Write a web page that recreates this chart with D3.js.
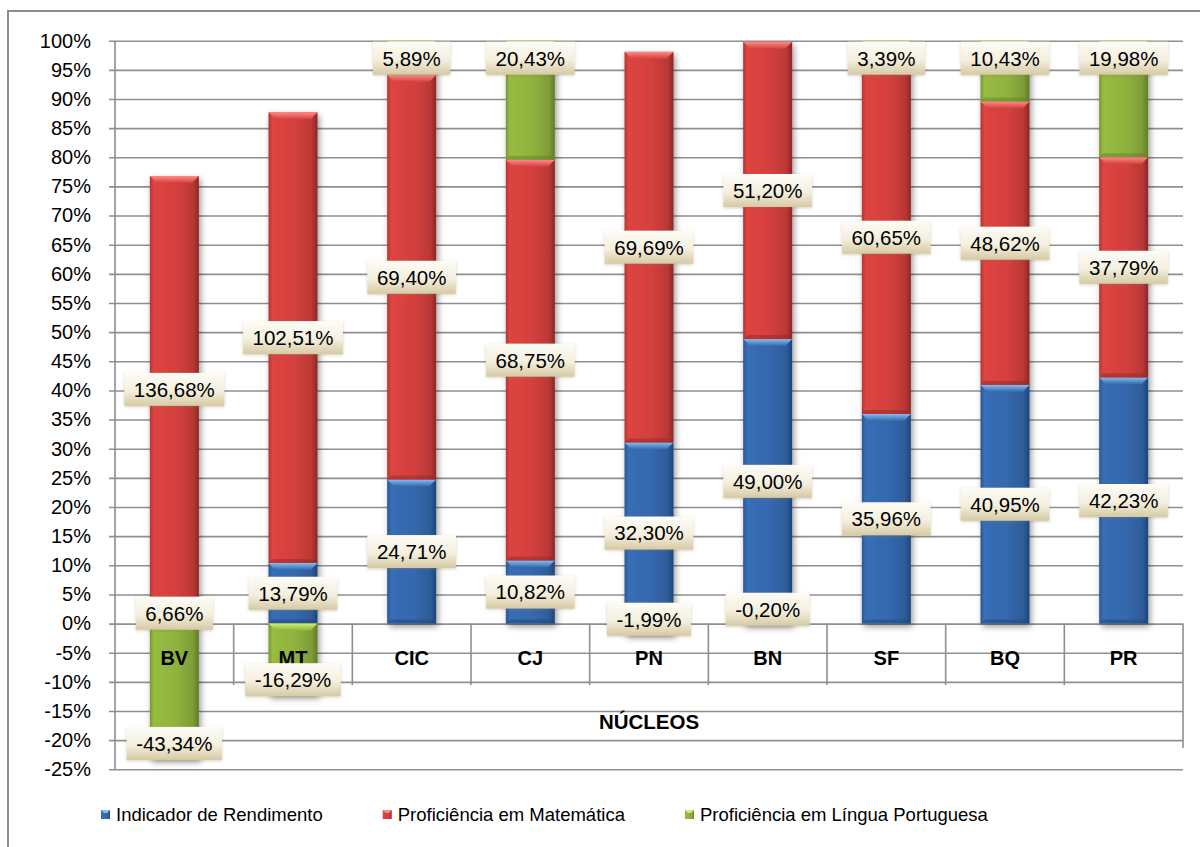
<!DOCTYPE html>
<html>
<head>
<meta charset="utf-8">
<script src="https://cdn.jsdelivr.net/npm/d3@7"></script>
<style>
  body { margin: 0; background: #fff; }
  text { font-family: "Liberation Sans", Arial, sans-serif; }
</style>
</head>
<body>
<svg id="chart" width="1200" height="847"></svg>
<script>
// ---- data ----
var categories = ['BV', 'MT', 'CIC', 'CJ', 'PN', 'BN', 'SF', 'BQ', 'PR'];
var rendimento = [6.66, 13.79, 24.71, 10.82, 32.30, 49.00, 35.96, 40.95, 42.23];
var matematica = [136.68, 102.51, 69.40, 68.75, 69.69, 51.20, 60.65, 48.62, 37.79];
var portugues = [-43.34, -16.29, 5.89, 20.43, -1.99, -0.20, 3.39, 10.43, 19.98];
var seriesNames = ['Indicador de Rendimento', 'Proficiência em Matemática', 'Proficiência em Língua Portuguesa'];
var yTicks = [-25, -20, -15, -10, -5, 0, 5, 10, 15, 20, 25, 30, 35, 40, 45, 50, 55, 60, 65, 70, 75, 80, 85, 90, 95, 100];
var axisTitle = 'NÚCLEOS';

// ---- look ----
var keys = ['r', 'm', 'p'];
var colors = [
    { base: '#3468ad', light: '#86bcf0', dark: '#1c4579' },
    { base: '#d3403d', light: '#ff8a88', dark: '#8e2624' },
    { base: '#8fb23e', light: '#d2ee72', dark: '#5f7c25' }
];
var fontStack = '"Liberation Sans", Arial, sans-serif';
var plot = { left: 115, right: 1183, top: 40.7, bottom: 769.3 };

var locale = d3.formatLocale({ decimal: ',', thousands: '.', grouping: [3], currency: ['', ''], minus: '-' });
var fmtVal = locale.format('.2f');
var fmtTick = locale.format('d');

var svg = d3.select('#chart');
var defs = svg.append('defs');

// chart border (cropped on the right / bottom like the source)
svg.append('rect')
    .attr('x', 8).attr('y', 11).attr('width', 1220).attr('height', 880)
    .attr('fill', '#fff').attr('stroke', '#8c8c8c').attr('stroke-width', 2);

// gradients
colors.forEach(function (c, i) {
    var g = defs.append('linearGradient').attr('id', 'bar-' + i)
        .attr('x1', 0).attr('x2', 1).attr('y1', 0).attr('y2', 0);
    g.append('stop').attr('offset', 0).attr('stop-color', d3.color(c.base).darker(0.5));
    g.append('stop').attr('offset', 0.08).attr('stop-color', d3.color(c.base).brighter(0.15));
    g.append('stop').attr('offset', 0.55).attr('stop-color', c.base);
    g.append('stop').attr('offset', 0.88).attr('stop-color', d3.color(c.base).darker(0.35));
    g.append('stop').attr('offset', 1).attr('stop-color', c.dark);

    var t = defs.append('linearGradient').attr('id', 'top-' + i)
        .attr('x1', 0).attr('x2', 0).attr('y1', 0).attr('y2', 1);
    t.append('stop').attr('offset', 0).attr('stop-color', c.light);
    t.append('stop').attr('offset', 1).attr('stop-color', c.base);
});

var lg = defs.append('linearGradient').attr('id', 'label-bg')
    .attr('x1', 0).attr('x2', 0).attr('y1', 0).attr('y2', 1);
lg.append('stop').attr('offset', 0).attr('stop-color', '#fdfcf6');
lg.append('stop').attr('offset', 0.55).attr('stop-color', '#f4efde');
lg.append('stop').attr('offset', 1).attr('stop-color', '#d6caa4');

var sh = defs.append('filter').attr('id', 'shadow')
    .attr('x', '-30%').attr('y', '-10%').attr('width', '160%').attr('height', '130%');
sh.append('feDropShadow').attr('dx', 2).attr('dy', 3).attr('stdDeviation', 3)
    .attr('flood-color', '#000').attr('flood-opacity', 0.4);

var lsh = defs.append('filter').attr('id', 'label-shadow')
    .attr('x', '-20%').attr('y', '-30%').attr('width', '140%').attr('height', '160%');
lsh.append('feDropShadow').attr('dx', 0).attr('dy', 1).attr('stdDeviation', 1.5)
    .attr('flood-color', '#8a7a50').attr('flood-opacity', 0.35);

defs.append('clipPath').attr('id', 'plot-clip').append('rect')
    .attr('x', plot.left).attr('y', plot.top)
    .attr('width', plot.right - plot.left).attr('height', plot.bottom - plot.top);

// ---- scales ----
var y = d3.scaleLinear().domain([-25, 100]).range([plot.bottom, plot.top]);
var x = d3.scaleBand().domain(categories).range([plot.left, plot.right]);
var barW = x.bandwidth() * 0.413;

// 100% stacked: each value as share of the sum of absolute values
var rows = categories.map(function (c, i) {
    var tot = Math.abs(rendimento[i]) + Math.abs(matematica[i]) + Math.abs(portugues[i]);
    return {
        cat: c,
        r: rendimento[i] / tot * 100,
        m: matematica[i] / tot * 100,
        p: portugues[i] / tot * 100,
        raw: [rendimento[i], matematica[i], portugues[i]]
    };
});
var stacked = d3.stack().keys(keys).offset(d3.stackOffsetDiverging)(rows);

// ---- gridlines + value axis ----
svg.append('g')
    .attr('transform', 'translate(' + (plot.left - 6) + ',0)')
    .attr('font-family', fontStack)
    .call(d3.axisLeft(y).tickValues(yTicks)
        .tickSize(-(plot.right - plot.left + 6)).tickPadding(18)
        .tickFormat(function (d) { return fmtTick(d) + '%'; }))
    .call(function (g) { g.select('.domain').remove(); })
    .call(function (g) { g.selectAll('.tick line').attr('stroke', '#8f8f8f').attr('stroke-width', 1.6); })
    .call(function (g) { g.selectAll('.tick text').attr('font-size', 20).attr('fill', '#000'); });

svg.append('line')
    .attr('x1', plot.left).attr('x2', plot.left)
    .attr('y1', plot.top).attr('y2', plot.bottom)
    .attr('stroke', '#8f8f8f').attr('stroke-width', 1.6);

// category axis separators (two levels)
var y0 = y(0);
categories.slice(1).forEach(function (c) {
    svg.append('line')
        .attr('x1', x(c)).attr('x2', x(c)).attr('y1', y0).attr('y2', y0 + 61.5)
        .attr('stroke', '#8f8f8f').attr('stroke-width', 1.6);
});
svg.append('line')
    .attr('x1', plot.right).attr('x2', plot.right).attr('y1', y0).attr('y2', y0 + 124.5)
    .attr('stroke', '#8f8f8f').attr('stroke-width', 1.6);

// ---- bars ----
var barLayer = svg.append('g').attr('clip-path', 'url(#plot-clip)');

function clampY(v) { return y(Math.max(-25, Math.min(100, v))); }

var cols = barLayer.selectAll('g.col')
    .data(rows)
    .join('g').attr('class', 'col')
    .attr('filter', 'url(#shadow)');

cols.each(function (row, ci) {
    var g = d3.select(this);
    var x0 = x(row.cat) + (x.bandwidth() - barW) / 2;
    var x1 = x0 + barW;
    stacked.forEach(function (s, si) {
        var seg = s[ci];
        var yt = clampY(seg[1]);
        var yb = clampY(seg[0]);
        var h = yb - yt;
        if (h <= 0) return;
        g.append('rect')
            .attr('x', x0).attr('y', yt).attr('width', barW).attr('height', h)
            .attr('fill', 'url(#bar-' + si + ')');
        var b = Math.min(7, h / 2);
        g.append('path')
            .attr('d', 'M' + x0 + ',' + yt + 'L' + x1 + ',' + yt +
                'L' + (x1 - b) + ',' + (yt + b) + 'L' + (x0 + b) + ',' + (yt + b) + 'Z')
            .attr('fill', 'url(#top-' + si + ')');
        var bb = Math.min(4, h / 3);
        g.append('path')
            .attr('d', 'M' + x0 + ',' + yb + 'L' + x1 + ',' + yb +
                'L' + (x1 - bb) + ',' + (yb - bb) + 'L' + (x0 + bb) + ',' + (yb - bb) + 'Z')
            .attr('fill', colors[si].dark).attr('opacity', 0.45);
    });
});

// ---- category labels ----
svg.append('g').selectAll('text')
    .data(categories)
    .join('text')
    .attr('x', function (d) { return x(d) + x.bandwidth() / 2; })
    .attr('y', y0 + 34.5)
    .attr('dy', '0.35em')
    .attr('text-anchor', 'middle')
    .attr('font-size', 20).attr('font-weight', 'bold')
    .text(function (d) { return d; });

svg.append('text')
    .attr('x', (plot.left + plot.right) / 2)
    .attr('y', y0 + 98.5)
    .attr('dy', '0.35em')
    .attr('text-anchor', 'middle')
    .attr('font-size', 20.5).attr('font-weight', 'bold')
    .text(axisTitle);

// ---- data labels ----
var labelLayer = svg.append('g');
var boxH = 33;
rows.forEach(function (row, ci) {
    var cx = x(row.cat) + x.bandwidth() / 2;
    stacked.forEach(function (s, si) {
        var seg = s[ci];
        var v = row.raw[si];
        var cy;
        if (si < 2) {
            cy = (clampY(seg[0]) + clampY(seg[1])) / 2;
        } else if (v >= 0) {
            cy = clampY(seg[1]) + boxH / 2 + 1;   // inside end
        } else {
            cy = clampY(seg[0]) - boxH / 2 + 1;
        }
        var lab = labelLayer.append('g');
        var box = lab.append('rect')
            .attr('fill', 'url(#label-bg)')
            .attr('filter', 'url(#label-shadow)');
        var t = lab.append('text')
            .attr('x', cx).attr('y', cy).attr('dy', '0.36em')
            .attr('text-anchor', 'middle')
            .attr('font-size', 20.5).attr('fill', '#000')
            .text(fmtVal(v) + '%');
        var w = t.node().getComputedTextLength() + 19;
        box.attr('x', cx - w / 2).attr('y', cy - boxH / 2)
            .attr('width', w).attr('height', boxH);
    });
});

// ---- legend ----
var legend = svg.append('g');
var lx = 101, ly = 815;
seriesNames.forEach(function (name, i) {
    legend.append('rect')
        .attr('x', lx).attr('y', ly - 5).attr('width', 9).attr('height', 9)
        .attr('fill', 'url(#bar-' + i + ')');
    legend.append('path')
        .attr('d', 'M' + lx + ',' + (ly - 5) + 'h9l-3,3h-3z')
        .attr('fill', colors[i].light);
    var t = legend.append('text')
        .attr('x', lx + 15).attr('y', ly).attr('dy', '0.35em')
        .attr('font-size', 18.5).attr('fill', '#000')
        .text(name);
    lx += 15 + t.node().getComputedTextLength() + 60;
});
</script>
</body>
</html>
